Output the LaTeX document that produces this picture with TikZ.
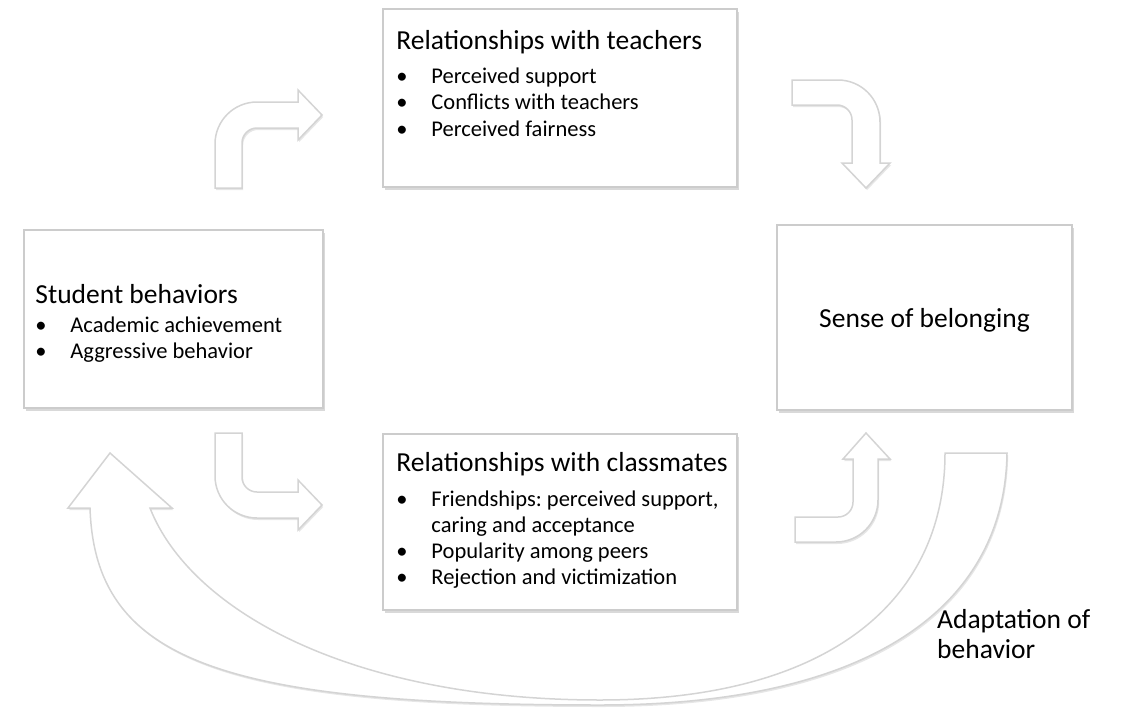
\documentclass[tikz,border=0pt]{standalone}
\usepackage{fontspec}
\setmainfont{Carlito}
\usetikzlibrary{shadows,calc}

\tikzset{
  panel/.style={draw=black!20, line width=1.5pt, fill=white, inner sep=0pt,
    drop shadow={shadow xshift=2pt, shadow yshift=-3pt, opacity=0.3, fill=black!50}},
  blockarrow/.style={draw=black!17, line width=1.5pt, fill=white,
    drop shadow={shadow xshift=1.2pt, shadow yshift=-2pt, opacity=0.2, fill=black!50}},
  head/.style={anchor=base west, inner sep=0pt, font=\fontsize{27.5}{32}\selectfont},
  item/.style={anchor=base west, inner sep=0pt, font=\fontsize{22.5}{26}\selectfont},
}
\newcommand{\bul}{\makebox[35pt][l]{\textbullet}}
\newcommand{\nobul}{\hspace*{35pt}}
\frenchspacing

\begin{document}
\begin{tikzpicture}[x=1pt,y=-1pt]
\useasboundingbox (0,0) rectangle (1127,707);

% boxes
\node[panel, minimum width=354pt, minimum height=178pt] (teach) at (560,98) {};
\node[panel, minimum width=299pt, minimum height=178pt] (stud)  at (173.5,319) {};
\node[panel, minimum width=295pt, minimum height=185pt] (sense) at (924.5,317.5) {};
\node[panel, minimum width=354pt, minimum height=176pt] (mates) at (560,522) {};

% bent arrows
\path[blockarrow] (215,188) -- (215,144) .. controls (215,120.8) and (233.8,102) .. (257,102)
  -- (298,102) -- (298,90) -- (322,115) -- (298,140) -- (298,128) -- (257,128)
  .. controls (248.7,128) and (242,134.7) .. (242,143) -- (242,188) -- cycle;
\path[blockarrow] (792,80) -- (838,80) .. controls (861.2,80) and (880,98.8) .. (880,122)
  -- (880,163) -- (890,163) -- (866,188) -- (842,163) -- (852,163) -- (852,120)
  .. controls (852,111.7) and (845.3,105) .. (837,105) -- (792,105) -- cycle;
\path[blockarrow] (215,433) -- (215,476) .. controls (215,499.2) and (233.8,518) .. (257,518)
  -- (298,518) -- (298,530) -- (322,505) -- (298,480) -- (298,492) -- (257,492)
  .. controls (248.7,492) and (242,485.3) .. (242,477) -- (242,433) -- cycle;
\path[blockarrow] (795,542) -- (836,542) .. controls (859.2,542) and (878,523.2) .. (878,500)
  -- (878,459) -- (890,459) -- (866,433) -- (843,459) -- (853,459) -- (853,502)
  .. controls (853,510.3) and (846.3,517) .. (838,517) -- (795,517) -- cycle;

% feedback arrow
\path[blockarrow] (945,453) -- (1007,453) .. controls (1005,600) and (880,705) .. (600,705)
  .. controls (220,705) and (95,660) .. (90,508) -- (68,508) -- (110,453) -- (172,508)
  -- (150,508) .. controls (190,610) and (350,700) .. (600,700)
  .. controls (830,700) and (945,600) .. (945,453) -- cycle;

% texts
\node[head] (teachH) at ($(teach.north west)+(14,41)$) {Relationships with teachers};
\node[item] (teach1) at ($(teachH.base west)+(0,34)$) {\bul Perceived support};
\node[item] (teach2) at ($(teach1.base west)+(0,26.5)$) {\bul Conflicts with teachers};
\node[item] (teach3) at ($(teach2.base west)+(0,26.5)$) {\bul Perceived fairness};

\node[head] (studH) at ($(stud.north west)+(12,74)$) {Student behaviors};
\node[item] (stud1) at ($(studH.base west)+(0,29)$) {\bul Academic achievement};
\node[item] (stud2) at ($(stud1.base west)+(0,26)$) {\bul Aggressive behavior};

\node[anchor=base, inner sep=0pt, font=\fontsize{27.5}{32}\selectfont] (senseT)
  at ($(sense.north)+(0,103)$) {Sense of belonging};

\node[head] (matesH) at ($(mates.north west)+(14,38)$) {Relationships with classmates};
\node[item] (mates1) at ($(matesH.base west)+(0,35)$) {\bul Friendships: perceived support,};
\node[item] (mates2) at ($(mates1.base west)+(0,26)$) {\nobul caring and acceptance};
\node[item] (mates3) at ($(mates2.base west)+(0,26)$) {\bul Popularity among peers};
\node[item] (mates4) at ($(mates3.base west)+(0,26)$) {\bul Rejection and victimization};

\node[head] (adapt1) at (937,628) {Adaptation of};
\node[head] (adapt2) at ($(adapt1.base west)+(0,30)$) {behavior};
\end{tikzpicture}
\end{document}
